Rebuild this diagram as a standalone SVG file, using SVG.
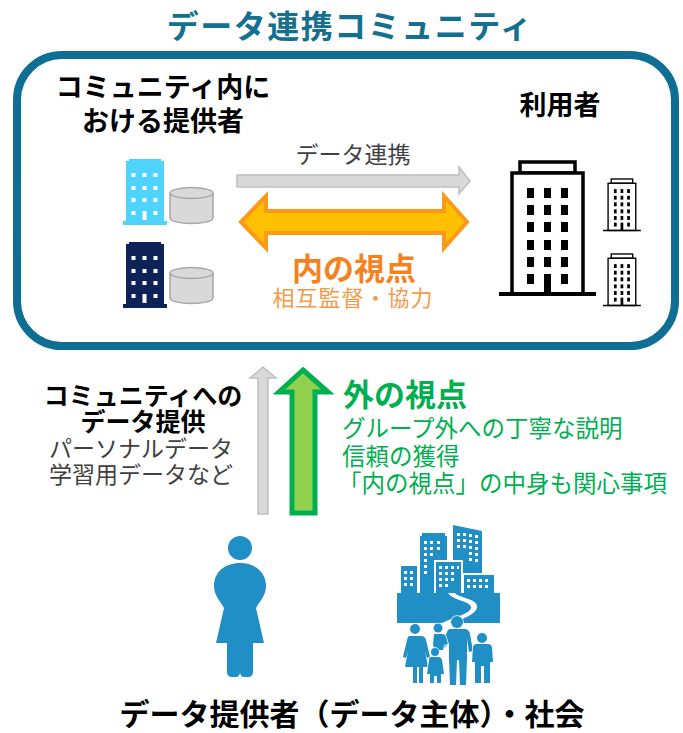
<svg xmlns="http://www.w3.org/2000/svg" xmlns:xlink="http://www.w3.org/1999/xlink" width="683" height="733" viewBox="0 0 683 733">
  <style>
    text { font-family: "Noto Sans CJK JP", "Noto Sans", sans-serif; }
    .b { font-weight: 700; }
    .head { fill: #000; font-weight: 700; }
    .gray { fill: #404040; }
    .green { fill: #00b050; }
    .blue { fill: #1f8fc6; }
    .cyl { fill: #d9d9d9; stroke: #a6a6a6; stroke-width: 1.5; }
    .win { fill: #fff; }
    .tw { fill: #fff; stroke: #000; stroke-width: 3.5; }
    .tk { fill: #000; }
  </style>
  <defs>
    <!-- small office block, coloured through currentColor -->
    <g id="office">
      <path fill="currentColor" d="M129,159 H161 V161 H164 V221 H167 V225 H123 V221 H126 V161 H129 Z"/>
      <g class="win">
        <rect x="131.5" y="173" width="4" height="4"/><rect x="142.5" y="173" width="4" height="4"/><rect x="153.5" y="173" width="4" height="4"/>
        <rect x="131.5" y="186" width="4" height="4"/><rect x="142.5" y="186" width="4" height="4"/><rect x="153.5" y="186" width="4" height="4"/>
        <rect x="131.5" y="198" width="4" height="4"/><rect x="142.5" y="198" width="4" height="4"/><rect x="153.5" y="198" width="4" height="4"/>
        <rect x="131.5" y="211" width="4" height="4"/><rect x="142.5" y="211" width="4" height="9"/><rect x="153.5" y="211" width="4" height="4"/>
      </g>
    </g>
    <!-- database cylinder -->
    <g id="db">
      <path class="cyl" d="M170,193 V218 A21.5,5.5 0 0 0 213,218 V193"/>
      <ellipse class="cyl" cx="191.5" cy="193" rx="21.5" ry="5.5"/>
    </g>
    <!-- outlined tower -->
    <g id="tower">
      <rect class="tw" x="520" y="162" width="55" height="11"/>
      <rect class="tw" x="512" y="173" width="71" height="121"/>
      <line x1="499" y1="294" x2="596" y2="294" stroke="#000" stroke-width="4"/>
      <g class="tk">
        <rect x="527" y="188" width="7" height="10"/><rect x="544" y="188" width="7" height="10"/><rect x="561" y="188" width="7" height="10"/>
        <rect x="527" y="205" width="7" height="10"/><rect x="544" y="205" width="7" height="10"/><rect x="561" y="205" width="7" height="10"/>
        <rect x="527" y="222" width="7" height="10"/><rect x="544" y="222" width="7" height="10"/><rect x="561" y="222" width="7" height="10"/>
        <rect x="527" y="240" width="7" height="10"/><rect x="544" y="240" width="7" height="10"/><rect x="561" y="240" width="7" height="10"/>
        <rect x="527" y="257" width="7" height="10"/><rect x="544" y="257" width="7" height="10"/><rect x="561" y="257" width="7" height="10"/>
        <rect x="527" y="274" width="7" height="10"/><rect x="544" y="274" width="7" height="20"/><rect x="561" y="274" width="7" height="10"/>
      </g>
    </g>
  </defs>

  <!-- heading -->
  <text id="title" x="350" y="38" text-anchor="middle" class="b" font-size="32" letter-spacing="1.5" fill="#13708f">データ連携コミュニティ</text>

  <!-- community frame -->
  <g id="community">
    <rect x="17" y="55" width="658" height="291" rx="45" fill="#fff" stroke="#0f6e93" stroke-width="8"/>
  </g>

  <!-- providers inside the community -->
  <g id="providers">
    <text x="163" y="97" text-anchor="middle" class="head" font-size="27">コミュニティ内に</text>
    <text x="163" y="131" text-anchor="middle" class="head" font-size="27">おける提供者</text>
    <use xlink:href="#office" style="color:#4fd3ff"/>
    <use xlink:href="#db"/>
    <use xlink:href="#office" transform="translate(0,83)" style="color:#0d2357"/>
    <use xlink:href="#db" transform="translate(0,80)"/>
  </g>

  <!-- users -->
  <g id="users">
    <text x="560" y="115" text-anchor="middle" class="head" font-size="27">利用者</text>
    <use xlink:href="#tower"/>
    <use xlink:href="#tower" transform="translate(408.4,115.8) scale(0.39)"/>
    <use xlink:href="#tower" transform="translate(408.4,190.8) scale(0.39)"/>
  </g>

  <!-- arrows -->
  <g id="connectors">
    <polygon points="237,175 459,175 459,167 470,181 459,194 459,187 237,187" fill="#d9d9d9" stroke="#bfbfbf" stroke-width="1.5"/>
    <polygon points="241,222 266,196 266,211 444,211 444,196 467,222 444,248 444,233 266,233 266,248" fill="#ffc000" stroke="#fb9a1a" stroke-width="4"/>
    <polygon points="263,367 276,378 268,378 268,514 258,514 258,378 250,378" fill="#d9d9d9" stroke="#bfbfbf" stroke-width="1.5"/>
    <polygon points="303,370 328,392 315,392 315,513 292,513 292,392 279,392" fill="#92d050" stroke="#00b050" stroke-width="5"/>
  </g>

  <!-- labels on arrows -->
  <g id="link-labels">
    <text x="353" y="163" text-anchor="middle" class="gray" font-size="23">データ連携</text>
    <text x="354" y="280" text-anchor="middle" class="b" font-size="31" fill="#f5821f">内の視点</text>
    <text x="353" y="306" text-anchor="middle" font-size="22" letter-spacing="1" fill="#f59a4a">相互監督・協力</text>
  </g>

  <!-- data provision -->
  <g id="provision">
    <text x="143" y="405" text-anchor="middle" class="head" font-size="25">コミュニティへの</text>
    <text x="143" y="431" text-anchor="middle" class="head" font-size="25">データ提供</text>
    <text x="141" y="457" text-anchor="middle" class="gray" font-size="23">パーソナルデータ</text>
    <text x="141" y="483" text-anchor="middle" class="gray" font-size="23">学習用データなど</text>
  </g>

  <!-- outside view -->
  <g id="outside">
    <text x="343" y="406" class="green b" font-size="31">外の視点</text>
    <text x="342" y="437" class="green" font-size="23.5">グループ外への丁寧な説明</text>
    <text x="342" y="465" class="green" font-size="23.5">信頼の獲得</text>
    <text x="338" y="492" class="green" font-size="23.5">「内の視点」の中身も関心事項</text>
  </g>

  <!-- individual -->
  <g id="person" class="blue">
    <circle cx="240" cy="548" r="12"/>
    <path d="M240,563 C255,563 266,572 266,586 C266,596 259,602 256,608 L264,643 L253,643 L253,672 Q253,677 248,677 L244,677 Q241,677 240,673 Q239,677 236,677 L232,677 Q227,677 227,672 L227,643 L216,643 L224,608 C221,602 214,596 214,586 C214,572 225,563 240,563 Z"/>
  </g>

  <!-- society -->
  <g id="society">
    <g class="blue">
      <rect x="401" y="566" width="16" height="34"/>
      <rect x="420" y="536" width="27" height="64"/>
      <rect x="422" y="533" width="23" height="4"/>
      <polygon points="453,525 482,531 482,600 453,600"/>
      <rect x="435" y="561" width="27" height="40" stroke="#fff" stroke-width="2"/>
      <rect x="463" y="574" width="32" height="27" stroke="#fff" stroke-width="2"/>
      <rect x="397" y="593" width="103" height="30"/>
    </g>
    <g class="win">
      <rect x="404" y="571" width="3" height="3"/><rect x="410" y="571" width="3" height="3"/>
      <rect x="404" y="577" width="3" height="3"/><rect x="410" y="577" width="3" height="3"/>
      <rect x="404" y="583" width="3" height="3"/><rect x="410" y="583" width="3" height="3"/>
      <rect x="424" y="541" width="3" height="3"/><rect x="430" y="541" width="3" height="3"/><rect x="437" y="541" width="3" height="3"/>
      <rect x="424" y="547" width="3" height="3"/><rect x="430" y="547" width="3" height="3"/><rect x="437" y="547" width="3" height="3"/>
      <rect x="424" y="553" width="3" height="3"/><rect x="430" y="553" width="3" height="3"/>
      <rect x="424" y="559" width="3" height="3"/><rect x="424" y="565" width="3" height="3"/><rect x="424" y="571" width="3" height="3"/>
      <rect x="457" y="533" width="3" height="3"/><rect x="463" y="533" width="3" height="3"/><rect x="469" y="534" width="3" height="3"/><rect x="475" y="535" width="3" height="3"/>
      <rect x="457" y="539" width="3" height="3"/><rect x="463" y="539" width="3" height="3"/><rect x="469" y="540" width="3" height="3"/><rect x="475" y="541" width="3" height="3"/>
      <rect x="457" y="545" width="3" height="3"/><rect x="463" y="545" width="3" height="3"/><rect x="469" y="546" width="3" height="3"/><rect x="475" y="547" width="3" height="3"/>
      <rect x="469" y="552" width="3" height="3"/><rect x="475" y="553" width="3" height="3"/>
      <rect x="469" y="558" width="3" height="3"/><rect x="475" y="559" width="3" height="3"/>
      <rect x="439" y="566" width="3" height="3"/><rect x="445" y="566" width="3" height="3"/><rect x="451" y="566" width="3" height="3"/><rect x="457" y="566" width="2" height="3"/>
      <rect x="439" y="572" width="3" height="3"/><rect x="445" y="572" width="3" height="3"/><rect x="451" y="572" width="3" height="3"/>
      <rect x="439" y="578" width="3" height="3"/><rect x="445" y="578" width="3" height="3"/><rect x="451" y="578" width="3" height="3"/>
      <rect x="439" y="584" width="3" height="3"/><rect x="445" y="584" width="3" height="3"/>
      <rect x="467" y="579" width="3" height="3"/><rect x="473" y="579" width="3" height="3"/><rect x="479" y="579" width="3" height="3"/><rect x="485" y="579" width="3" height="3"/>
      <rect x="467" y="585" width="3" height="3"/><rect x="473" y="585" width="3" height="3"/><rect x="479" y="585" width="3" height="3"/><rect x="485" y="585" width="3" height="3"/>
    </g>
    <!-- winding road -->
    <path d="M448,593 C452,600 470,601 471,607 C472,614 452,617 436,626 L446,626 C462,619 478,614 477,606 C476,598 458,598 455,593 Z" fill="#fff"/>
    <!-- family -->
    <g class="blue" stroke="#fff" stroke-width="1.5" paint-order="stroke">
      <circle cx="415" cy="629" r="5"/>
      <path d="M409,636 H421 Q425,636 426,640 L430,657 L427,658 L425,651 L428,667 H423 V683 H419 V667 H417 V683 H413 V667 H405 L408,651 L406,658 L403,657 L407,640 Q408,636 409,636 Z"/>
      <circle cx="457" cy="622" r="6"/>
      <path d="M450,629 H464 Q469,629 470,634 L473,651 L469,652 L467,639 V658 L466,685 H460 L459,660 H457 L456,685 H450 L449,658 V643 L444,648 L441,645 L447,632 Q448,629 450,629 Z"/>
      <circle cx="438" cy="628" r="4.5"/>
      <path d="M434,634 H442 Q445,634 446,637 L448,644 L444,645 L443,650 H435 L433,645 Z"/>
      <circle cx="435" cy="652" r="4"/>
      <path d="M431,657 H439 Q441,657 442,660 L444,674 H441 V683 H437 V676 H434 V683 H430 V674 H427 L429,660 Q429,657 431,657 Z"/>
      <circle cx="482" cy="638" r="5"/>
      <path d="M476,644 H488 Q491,644 492,647 L493,662 H490 V683 H484 V666 H481 V683 H475 V662 H472 L473,647 Q474,644 476,644 Z"/>
    </g>
  </g>

  <!-- caption -->
  <text id="caption" x="352" y="725" text-anchor="middle" class="head" font-size="30">データ提供者（データ主体）・社会</text>
</svg>
